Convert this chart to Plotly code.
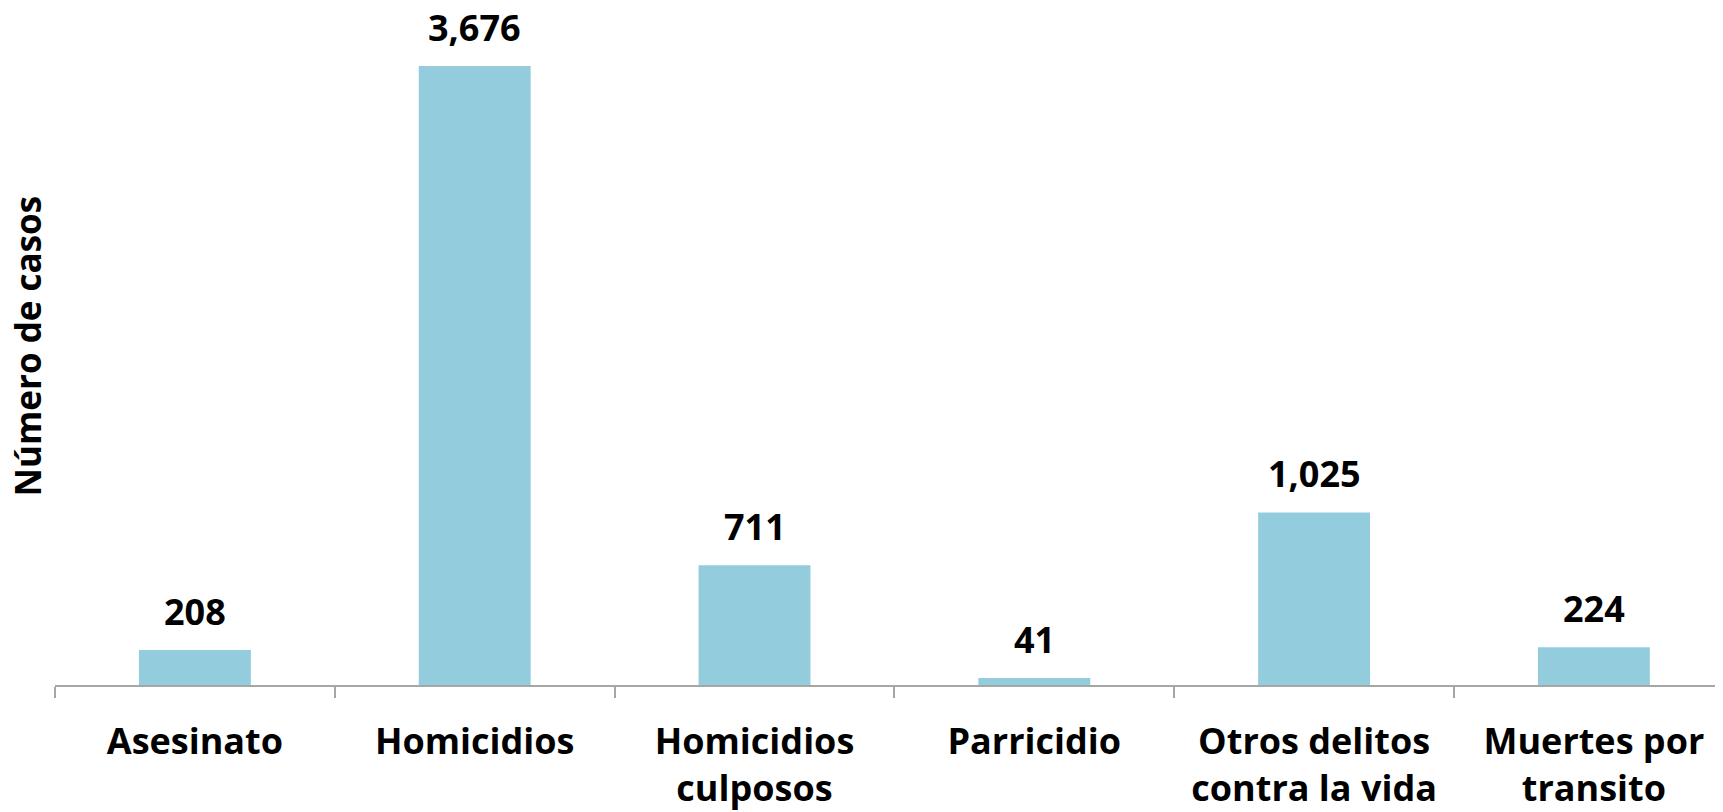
import plotly.graph_objects as go

categories = ["Asesinato", "Homicidios", "Homicidios<br>culposos", "Parricidio",
              "Otros delitos<br>contra la vida", "Muertes por<br>transito"]
values = [208, 3676, 711, 41, 1025, 224]
value_labels = ["208", "3,676", "711", "41", "1,025", "224"]
y_title = "Número de casos"

FONT = "Open Sans"
BAR_COLOR = "#93CDDD"

fig = go.Figure()
fig.add_trace(go.Bar(
    x=categories, y=values, marker_color=BAR_COLOR, width=0.4,
    marker_line_width=0, hoverinfo="skip",
))

for c, v, t in zip(categories, values, value_labels):
    fig.add_annotation(x=c, y=v, text=f"<b>{t}</b>", showarrow=False,
                       yanchor="bottom", yshift=12,
                       font=dict(family=FONT, size=36, color="#000000"))

fig.add_annotation(xref="paper", yref="paper", x=0, y=0.5, xshift=-28,
                   xanchor="center", yanchor="middle",
                   text=f"<b>{y_title}</b>", textangle=-90, showarrow=False,
                   font=dict(family=FONT, size=35, color="#000000"))

fig.update_layout(
    width=1723, height=812,
    margin=dict(l=47, r=0, t=0, b=135),
    paper_bgcolor="white", plot_bgcolor="white",
    showlegend=False,
    bargap=0.6,
    font=dict(family=FONT, size=35, color="#000000"),
)
fig.update_xaxes(
    range=[-0.5, 5.49],
    showline=True, linecolor="#A6A6A6", linewidth=1.5,
    ticks="outside", tickson="boundaries", ticklen=11, tickcolor="#A6A6A6", tickwidth=1.5,
    tickfont=dict(family=FONT, size=36, color="#000000"),
    ticklabelstandoff=24,
    tickprefix="<b>", ticksuffix="</b>",
    showgrid=False, zeroline=False,
)
fig.update_yaxes(
    range=[0, 4020], visible=False, showgrid=False, zeroline=False,
)

fig.write_html("out.html")
